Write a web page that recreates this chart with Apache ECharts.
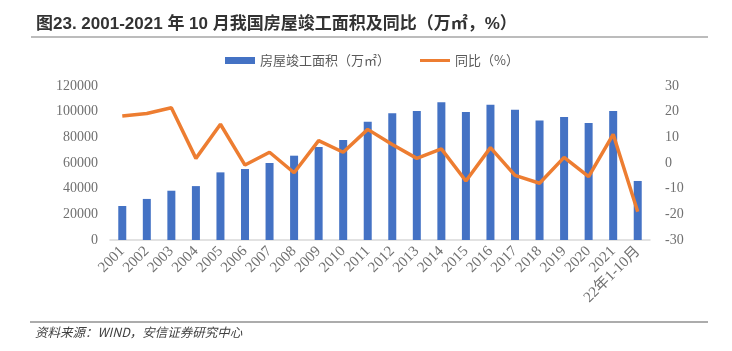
<!DOCTYPE html>
<html><head><meta charset="utf-8">
<script src="https://cdn.jsdelivr.net/npm/echarts@6/dist/echarts.min.js"></script>
<style>html,body{margin:0;padding:0;background:#fff}#c{width:732px;height:351px}</style>
</head><body><div id="c"></div>
<script>
var categories = ['2001','2002','2003','2004','2005','2006','2007','2008','2009','2010','2011','2012','2013','2014','2015','2016','2017','2018','2019','2020','2021','22年1-10月'];
var area = [26500,32000,38400,42000,52700,55300,60000,65700,72400,77900,92200,98700,100500,107300,99700,105400,101500,93200,95800,91200,100500,46000];
var yoy = [18.3,19.3,21.5,1.8,15.1,-0.8,4.2,-3.8,8.7,4.2,13.1,7.2,1.8,5.5,-7.0,6.0,-4.8,-7.9,2.2,-5.3,11.2,-19.0];
var leftTicks = {min:0,max:120000,interval:20000};
var rightTicks = {min:-30,max:30,interval:10};

var chart = echarts.init(document.getElementById('c'));
var serif = '"Liberation Serif","Noto Sans CJK SC",serif';
chart.setOption({
  animation:false,
  title:{text:'图23. 2001-2021 年 10 月我国房屋竣工面积及同比（万㎡，%）',left:31,top:11,
    textStyle:{fontSize:17,fontWeight:'bold',color:'#333333',fontFamily:'"Liberation Sans","Noto Sans CJK SC",sans-serif'}},
  legend:{top:49,left:220,itemGap:30,itemWidth:30,itemHeight:7,
    textStyle:{fontSize:13,color:'#595959',fontFamily:'"Noto Sans CJK SC",sans-serif'},
    data:[{name:'房屋竣工面积（万㎡）',icon:'rect'},{name:'同比（%）',icon:'path://M0,3 L30,3 L30,6 L0,6 Z'}]},
  grid:{left:110,right:82,top:86,bottom:111},
  xAxis:{type:'category',data:categories,
    axisLine:{lineStyle:{color:'#d9d9d9',width:1.5}},axisTick:{show:false},
    axisLabel:{interval:0,rotate:45,fontSize:15,color:'#707070',fontFamily:serif,margin:9}},
  yAxis:[
    {type:'value',min:leftTicks.min,max:leftTicks.max,interval:leftTicks.interval,
     splitLine:{show:false},axisLine:{show:false},axisTick:{show:false},
     axisLabel:{fontSize:14,color:'#707070',fontFamily:serif,margin:12,formatter:function(v){return String(v);}}},
    {type:'value',min:rightTicks.min,max:rightTicks.max,interval:rightTicks.interval,
     splitLine:{show:false},axisLine:{show:false},axisTick:{show:false},
     axisLabel:{fontSize:14,color:'#707070',fontFamily:serif,margin:15}}
  ],
  series:[
    {name:'房屋竣工面积（万㎡）',type:'bar',data:area,barWidth:8,itemStyle:{color:'#4472C4'}},
    {name:'同比（%）',type:'line',yAxisIndex:1,data:yoy,symbol:'none',
     lineStyle:{color:'#ED7D31',width:3.5},itemStyle:{color:'#ED7D31'}}
  ],
  graphic:[
    {type:'line',shape:{x1:31,y1:37,x2:708,y2:37},style:{stroke:'#a6a6a6',lineWidth:1.5}},
    {type:'line',shape:{x1:30,y1:322,x2:708,y2:322},style:{stroke:'#909090',lineWidth:1.5}},
    {type:'text',left:35,top:326,style:{text:'资料来源：WIND，安信证券研究中心',fontSize:12.5,fontStyle:'italic',
      fill:'#404040',fontFamily:'"Noto Sans CJK SC",sans-serif'}}
  ]
});
</script></body></html>
